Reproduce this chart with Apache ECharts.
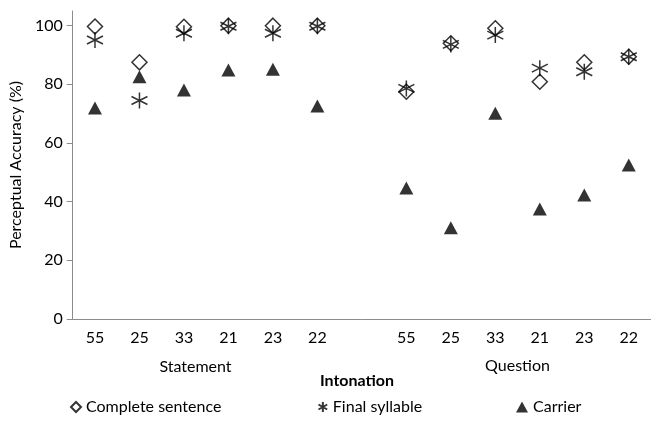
<!DOCTYPE html>
<html><head><meta charset="utf-8">
<script src="https://cdn.jsdelivr.net/npm/echarts@6/dist/echarts.min.js"></script>
<style>html,body{margin:0;padding:0;background:#fff}#c{width:651px;height:422px}</style>
</head><body><div id="c"></div>
<script>
var statementCats = ['55','25','33','21','23','22'];
var questionCats  = ['55','25','33','21','23','22'];
var groupLabels = ['Statement','Question'];
var axisTitle = 'Intonation';
var yTitle = 'Perceptual Accuracy (%)';
var yTicks = [0,20,40,60,80,100];
var seriesNames = ['Complete sentence','Final syllable','Carrier'];

var completeStatement = [99.7, 87.5, 99.6, 100, 100, 100];
var completeQuestion  = [77.5, 94.0, 99.1, 80.9, 87.5, 89.4];
var finalStatement    = [95.1, 74.5, 97.4, 99.8, 97.4, 99.8];
var finalQuestion     = [78.6, 93.6, 96.8, 85.5, 84.3, 89.4];
var carrierStatement  = [71.9, 82.6, 78.1, 84.9, 85.1, 72.6];
var carrierQuestion   = [44.7, 31.1, 70.1, 37.5, 42.3, 52.5];

var cats = statementCats.concat(['']).concat(questionCats);
function join(a,b){ return a.concat([null]).concat(b); }

var FONT = 'Lato';
var FS = 16;
var star = 'path://M10,0L10,20M1.3,5L18.7,15M1.3,15L18.7,5';
var legendText = {color:'#000', fontSize:FS, fontFamily:FONT};

var chart = echarts.init(document.getElementById('c'));
chart.setOption({
  animation:false,
  textStyle:{fontFamily:FONT},
  grid:{left:72, top:11, width:581, bottom:103, containLabel:false},
  xAxis:{type:'category', data:cats, boundaryGap:true,
    axisLine:{lineStyle:{color:'#8c8c8c'}},
    axisTick:{interval:0, length:6, lineStyle:{color:'#8c8c8c'}},
    axisLabel:{interval:0, color:'#000', fontSize:FS, fontFamily:FONT, margin:11}},
  yAxis:{type:'value', min:0, max:105, interval:20,
    name:yTitle, nameLocation:'middle', nameGap:44, nameRotate:90,
    nameTextStyle:{color:'#000', fontSize:FS, fontFamily:FONT},
    axisLine:{show:true, lineStyle:{color:'#8c8c8c'}},
    axisTick:{show:true, length:6, lineStyle:{color:'#8c8c8c'}, customValues:yTicks},
    splitLine:{show:false},
    axisLabel:{color:'#000', fontSize:FS, fontFamily:FONT, margin:10, customValues:yTicks}},
  legend:[
    {top:399, left:70, padding:0, itemWidth:10, itemHeight:10, textStyle:legendText, data:[seriesNames[0]]},
    {top:399, left:316, padding:0, itemWidth:10, itemHeight:10, textStyle:legendText, data:[seriesNames[1]]},
    {top:399, left:516, padding:0, itemWidth:12, itemHeight:11, textStyle:legendText, data:[seriesNames[2]]}
  ],
  graphic:[
    {type:'text', x:195.5, y:367, style:{text:groupLabels[0], fontSize:FS, fontFamily:FONT, fill:'#000', align:'center', verticalAlign:'middle'}},
    {type:'text', x:517.5, y:366, style:{text:groupLabels[1], fontSize:FS, fontFamily:FONT, fill:'#000', align:'center', verticalAlign:'middle'}},
    {type:'text', x:357, y:381, style:{text:axisTitle, fontSize:FS, fontWeight:'bold', fontFamily:FONT, fill:'#000', align:'center', verticalAlign:'middle'}}
  ],
  series:[
    {name:seriesNames[0], type:'scatter', data:join(completeStatement, completeQuestion),
      symbol:'diamond', symbolSize:[15,15],
      itemStyle:{color:'#fff', borderColor:'#000', borderWidth:1.5}},
    {name:seriesNames[1], type:'scatter', data:join(finalStatement, finalQuestion),
      symbol:star, symbolSize:[16,16],
      itemStyle:{color:'none', borderColor:'#000', borderWidth:1.5}},
    {name:seriesNames[2], type:'scatter', data:join(carrierStatement, carrierQuestion),
      symbol:'triangle', symbolSize:[14,13],
      itemStyle:{color:'#000'}}
  ]
});
</script></body></html>
